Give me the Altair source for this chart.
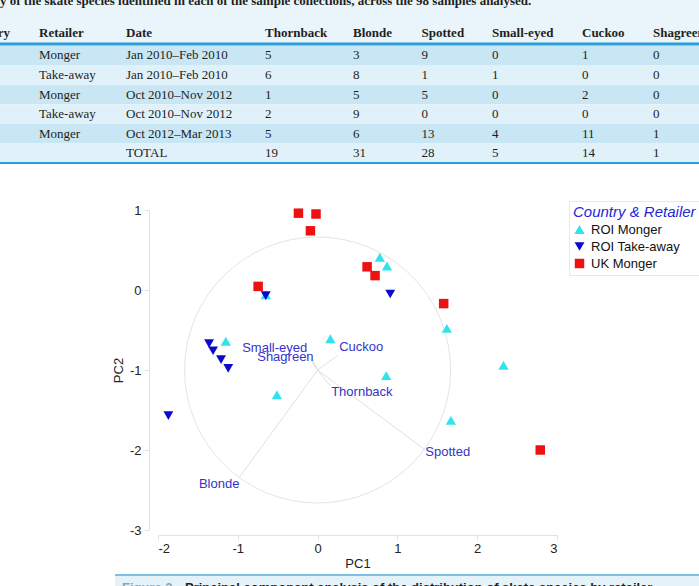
import altair as alt
import pandas as pd

# ---------------- data ----------------
caption_top = ("y of the skate species identified in each of the sample collections, "
               "across the 98 samples analysed.")
caption_bottom_fig = "Figure 2"
caption_bottom_text = "Principal component analysis of the distribution of skate species by retailer."

table_header = ["Country", "Retailer", "Date", "Thornback", "Blonde", "Spotted",
                "Small-eyed", "Cuckoo", "Shagreen"]
retailer = ["Monger", "Take-away", "Monger", "Take-away", "Monger", ""]
dates = ["Jan 2010–Feb 2010", "Jan 2010–Feb 2010", "Oct 2010–Nov 2012",
         "Oct 2010–Nov 2012", "Oct 2012–Mar 2013", "TOTAL"]
thornback = [5, 6, 1, 2, 5, 19]
blonde = [3, 8, 5, 9, 6, 31]
spotted = [9, 1, 5, 0, 13, 28]
small_eyed = [0, 1, 0, 0, 4, 5]
cuckoo = [1, 0, 2, 0, 11, 14]
shagreen = [0, 0, 0, 0, 1, 1]

group_names = ["ROI Monger", "ROI Take-away", "UK Monger"]
roi_monger_pc1 = [0.78, 0.87, -0.65, 1.62, -1.15, 0.16, 0.86, -0.51, 2.33, 1.67]
roi_monger_pc2 = [0.41, 0.30, -0.06, -0.48, -0.64, -0.61, -1.07, -1.31, -0.94, -1.63]
roi_take_pc1 = [-0.65, 0.91, -1.36, -1.31, -1.21, -1.12, -1.87]
roi_take_pc2 = [-0.07, -0.05, -0.67, -0.76, -0.87, -0.98, -1.57]
uk_monger_pc1 = [-0.24, -0.02, -0.09, -0.745, 0.62, 0.72, 1.58, 2.79]
uk_monger_pc2 = [0.96, 0.95, 0.74, 0.045, 0.29, 0.18, -0.17, -2.0]

species = ["Thornback", "Blonde", "Spotted", "Small-eyed", "Cuckoo", "Shagreen"]
load_origin = [0.0, -1.0]
load_pc1 = [0.16, -0.98, 1.35, -0.14, 0.25, -0.06]
load_pc2 = [-1.2, -2.34, -2.0, -0.8, -0.82, -0.88]
label_pc1 = [0.17, -0.98, 1.35, -0.13, 0.27, -0.05]
label_pc2 = [-1.27, -2.43, -2.03, -0.73, -0.71, -0.84]

circle_center = [0.0, -1.0]

# ---------------- layout (pixels) ----------------
L, T, W, H = 158, 210, 399, 320   # plot area inside the 699x586 canvas
def wx(px):
    return px - L
def wy(py):
    return py - T

COL_X = [-37, 39, 126, 265, 353, 421.5, 492, 582, 653]
RIGHT_LABELS = {"Blonde", "Small-eyed", "Shagreen"}

SERIF = "Liberation Serif"
SANS = "Liberation Sans"
ROW_DARK = "#c9e6f5"
ROW_LIGHT = "#e1f1fa"
TOP_BG = "#e9f5fb"
LINE_BLUE = "#2c9fd8"
TEXT_DARK = "#231f20"

one = pd.DataFrame({"a": [0]})

# ---------------- table ----------------
row_ids = [f"r{i}" for i in range(len(dates))]
row_scale = alt.Scale(type="band", domain=row_ids, range=[wy(45.5), wy(163.2)],
                      paddingInner=0, paddingOuter=0)
row_y = alt.Y("row:N", scale=row_scale, axis=None)
rows_df = pd.DataFrame({"row": row_ids, "odd": [i % 2 for i in range(len(row_ids))]})

table_layers = [
    alt.Chart(one).mark_rect(color=TOP_BG).encode(
        x=alt.value(wx(0)), x2=alt.value(wx(699)), y=alt.value(wy(-20)), y2=alt.value(wy(45))),
    alt.Chart(rows_df).mark_rect(color=ROW_DARK).encode(
        y=row_y, x=alt.value(wx(0)), x2=alt.value(wx(699))).transform_filter("datum.odd == 0"),
    alt.Chart(rows_df).mark_rect(color=ROW_LIGHT).encode(
        y=row_y, x=alt.value(wx(0)), x2=alt.value(wx(699))).transform_filter("datum.odd == 1"),
    alt.Chart(one).mark_rule(color=LINE_BLUE, strokeWidth=3).encode(
        x=alt.value(wx(0)), x2=alt.value(wx(699)), y=alt.value(wy(44))),
    alt.Chart(one).mark_rule(color=LINE_BLUE, strokeWidth=2).encode(
        x=alt.value(wx(0)), x2=alt.value(wx(699)), y=alt.value(wy(163))),
    alt.Chart(pd.DataFrame({"t": [caption_top]})).mark_text(
        align="left", baseline="alphabetic", font=SERIF, fontSize=13, fontWeight="bold",
        color=TEXT_DARK).encode(x=alt.value(wx(0)), y=alt.value(wy(5)), text="t:N"),
]

columns = [None, retailer, dates, thornback, blonde, spotted, small_eyed, cuckoo, shagreen]
for name, xpos, vals in zip(table_header, COL_X, columns):
    table_layers.append(
        alt.Chart(pd.DataFrame({"h": [name]})).mark_text(
            align="left", baseline="middle", font=SERIF, fontSize=13, fontWeight="bold",
            color=TEXT_DARK).encode(x=alt.value(wx(xpos)), y=alt.value(wy(33)), text="h:N"))
    if vals is None:
        continue
    df = pd.DataFrame({"row": row_ids, "val": [str(v) for v in vals]})
    table_layers.append(
        alt.Chart(df).mark_text(
            align="left", baseline="middle", font=SERIF, fontSize=13, color=TEXT_DARK).encode(
            x=alt.value(wx(xpos)), y=row_y, text="val:N"))

# bottom caption band
table_layers += [
    alt.Chart(one).mark_rect(color="#e4f2fa").encode(
        x=alt.value(wx(115)), x2=alt.value(wx(699)), y=alt.value(wy(575)), y2=alt.value(wy(600))),
    alt.Chart(one).mark_rule(color="#5aaedb", strokeWidth=1.5).encode(
        x=alt.value(wx(115)), x2=alt.value(wx(699)), y=alt.value(wy(575))),
    alt.Chart(pd.DataFrame({"t": [caption_bottom_fig]})).mark_text(
        align="left", baseline="top", font=SANS, fontSize=13, fontWeight="bold",
        color="#8aa5b8").encode(x=alt.value(wx(122)), y=alt.value(wy(582)), text="t:N"),
    alt.Chart(pd.DataFrame({"t": [caption_bottom_text]})).mark_text(
        align="left", baseline="top", font=SANS, fontSize=13, fontWeight="bold",
        color=TEXT_DARK).encode(x=alt.value(wx(185)), y=alt.value(wy(582)), text="t:N"),
]

table = alt.layer(*table_layers)

# ---------------- biplot ----------------
xs = alt.Scale(domain=[-2, 3], nice=False, zero=False)
ys = alt.Scale(domain=[-3, 1], nice=False, zero=False)
x_axis = alt.Axis(values=[-2, -1, 0, 1, 2, 3], title="PC1", offset=5, grid=False,
                  labelExpr="'' + datum.value",
                  domainColor="#e2e2e2", tickColor="#e2e2e2", tickSize=5,
                  labelFont=SANS, labelFontSize=13, labelColor="#222222", labelPadding=2,
                  titleFont=SANS, titleFontSize=13, titleFontWeight="normal",
                  titleColor="#222222", titlePadding=2)
y_axis = alt.Axis(values=[-3, -2, -1, 0, 1], title="PC2", offset=9, grid=False,
                  labelExpr="'' + datum.value",
                  domainColor="#e2e2e2", tickColor="#e2e2e2", tickSize=5,
                  labelFont=SANS, labelFontSize=13, labelColor="#222222", labelPadding=3,
                  titleFont=SANS, titleFontSize=13, titleFontWeight="normal",
                  titleColor="#222222", titlePadding=4)

pts = pd.DataFrame({
    "pc1": roi_monger_pc1 + roi_take_pc1 + uk_monger_pc1,
    "pc2": roi_monger_pc2 + roi_take_pc2 + uk_monger_pc2,
    "group": [group_names[0]] * len(roi_monger_pc1) + [group_names[1]] * len(roi_take_pc1)
             + [group_names[2]] * len(uk_monger_pc1),
})
load = pd.DataFrame({
    "species": species,
    "x0": [load_origin[0]] * len(species), "y0": [load_origin[1]] * len(species),
    "x1": load_pc1, "y1": load_pc2, "lx": label_pc1, "ly": label_pc2,
})
load["right"] = load["species"].isin(RIGHT_LABELS)
circ = pd.DataFrame({"cx": [circle_center[0]], "cy": [circle_center[1]]})

legend = alt.Legend(title="Country & Retailer", orient="none", legendX=wx(569), legendY=wy(201),
                    titleFont=SANS, titleFontSize=15, titleFontStyle="italic",
                    titleFontWeight="normal", titleColor="#2525d6", titlePadding=3,
                    labelFont=SANS, labelFontSize=13, labelColor="#111111", labelOffset=5,
                    symbolSize=55, rowPadding=3, padding=4, strokeColor="#e8e8e8",
                    fillColor="white", symbolStrokeWidth=0)

circle = alt.Chart(circ).mark_point(shape="circle", filled=False, size=70756,
                                    color="#e4e4e4", strokeWidth=1, opacity=1).encode(
    x=alt.X("cx:Q", scale=xs, axis=x_axis), y=alt.Y("cy:Q", scale=ys, axis=y_axis))

lines = alt.Chart(load).mark_rule(color="#e0e0e0", strokeWidth=1).encode(
    x=alt.X("x0:Q", scale=xs, axis=x_axis), y=alt.Y("y0:Q", scale=ys, axis=y_axis),
    x2="x1:Q", y2="y1:Q")

points = alt.Chart(pts).mark_point(filled=True, opacity=1).encode(
    x=alt.X("pc1:Q", scale=xs, axis=x_axis),
    y=alt.Y("pc2:Q", scale=ys, axis=y_axis),
    color=alt.Color("group:N", scale=alt.Scale(domain=group_names,
                                               range=["#2fe3ef", "#0a0acc", "#ee1111"]),
                    legend=legend),
    shape=alt.Shape("group:N", scale=alt.Scale(domain=group_names,
                                               range=["triangle-up", "triangle-down", "square"]),
                    legend=legend),
    size=alt.Size("group:N", scale=alt.Scale(domain=group_names, range=[105, 90, 76]),
                  legend=None),
)

labels_left = alt.Chart(load).mark_text(align="left", baseline="middle", font=SANS,
                                        fontSize=13, color="#3434c8").encode(
    x=alt.X("lx:Q", scale=xs, axis=x_axis), y=alt.Y("ly:Q", scale=ys, axis=y_axis),
    text="species:N").transform_filter("!datum.right")
labels_right = alt.Chart(load).mark_text(align="right", baseline="middle", font=SANS,
                                         fontSize=13, color="#3434c8").encode(
    x=alt.X("lx:Q", scale=xs, axis=x_axis), y=alt.Y("ly:Q", scale=ys, axis=y_axis),
    text="species:N").transform_filter("datum.right")

plot = alt.layer(circle, lines, labels_left, labels_right, points)

chart = alt.layer(table, plot).resolve_scale(y="independent").properties(
    width=W, height=H,
    autosize=alt.AutoSizeParams(type="none"),
    padding={"left": L, "top": T, "right": 699 - L - W, "bottom": 586 - T - H},
    background="white",
).configure_view(stroke=None)

chart.save("out.html", embed_options={"renderer": "svg", "actions": False})
